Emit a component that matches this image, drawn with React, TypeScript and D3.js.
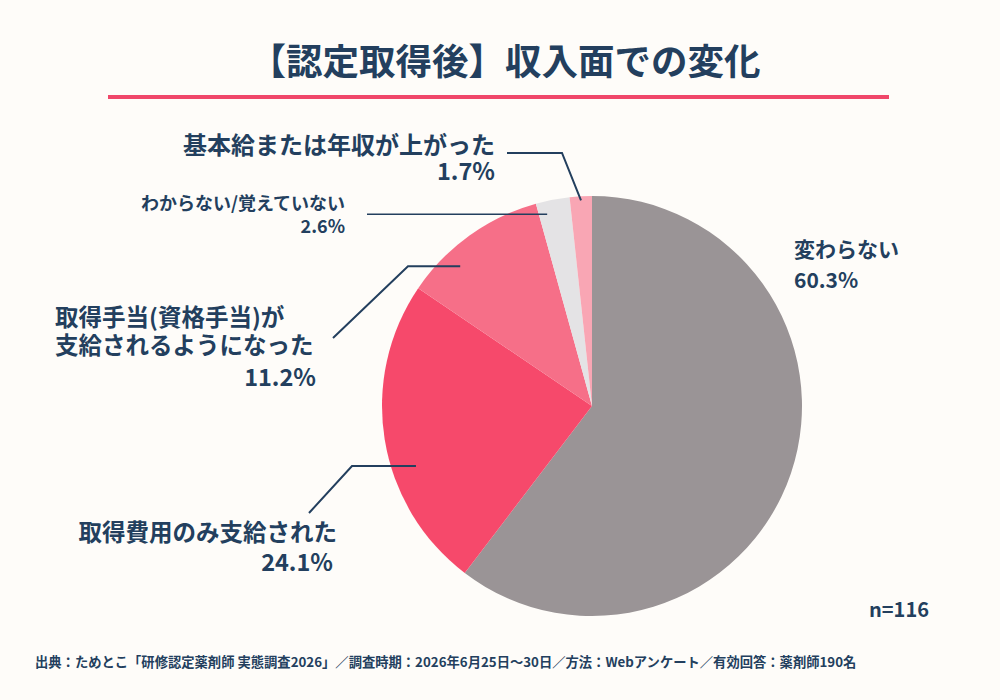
import {useMemo} from 'react'
import * as d3 from 'd3'

const WIDTH = 1000
const HEIGHT = 700
const CENTER = {x: 592, y: 406}
const RADIUS = 210

const INK = '#233f5e'
const ACCENT = '#f0476a'
const FONT = '"Noto Sans CJK JP", "Noto Sans", sans-serif'

// data, clockwise from 12 o'clock
const categories = [
  '変わらない',
  '取得費用のみ支給された',
  '取得手当(資格手当)が支給されるようになった',
  'わからない/覚えていない',
  '基本給または年収が上がった',
]
const shares = [60.3, 24.1, 11.2, 2.6, 1.7]
const sliceColors = ['#9a9496', '#f6496b', '#f66f88', '#e4e3e5', '#f9a6b4']

const TITLE = '【認定取得後】収入面での変化'
const SAMPLE = 'n=116'
const SOURCE =
  '出典：ためとこ「研修認定薬剤師 実態調査2026」／調査時期：2026年6月25日～30日／方法：Webアンケート／有効回答：薬剤師190名'

// label layout: text lines, where the leader line meets the slice
type LabelLayout = {
  lines: {text: string; x: number; y: number; anchor: 'start' | 'end'; size: number}[]
  t?: number // position within slice (0..1) for leader end
  r?: number
  via?: [number, number][] // extra leader points after the anchor (NaN y = anchor y)
  stroke?: number
}

const layouts: LabelLayout[] = [
  {
    lines: [
      {text: '変わらない', x: 794, y: 257, anchor: 'start', size: 21},
      {text: '60.3%', x: 794, y: 288, anchor: 'start', size: 21},
    ],
  },
  {
    lines: [
      {text: '取得費用のみ支給された', x: 337, y: 541, anchor: 'end', size: 23.5},
      {text: '24.1%', x: 333, y: 571, anchor: 'end', size: 23.5},
    ],
    t: 0.39,
    r: 186,
    via: [
      [352, NaN],
      [309, 513],
    ],
  },
  {
    lines: [
      {text: '取得手当(資格手当)が', x: 55, y: 326, anchor: 'start', size: 23.5},
      {text: '支給されるようになった', x: 55, y: 354, anchor: 'start', size: 23.5},
      {text: '11.2%', x: 316, y: 386, anchor: 'end', size: 23.5},
    ],
    t: 0.31,
    r: 192,
    via: [
      [408, NaN],
      [333, 338],
    ],
  },
  {
    lines: [
      {text: 'わからない/覚えていない', x: 345, y: 210, anchor: 'end', size: 18},
      {text: '2.6%', x: 345, y: 233, anchor: 'end', size: 18},
    ],
    t: 0.25,
    r: 197,
    via: [[367, NaN]],
    stroke: 1.5,
  },
  {
    lines: [
      {text: '基本給または年収が上がった', x: 495, y: 154, anchor: 'end', size: 24},
      {text: '1.7%', x: 495, y: 180, anchor: 'end', size: 23.5},
    ],
    t: 0.5,
    r: 206,
    via: [
      [562, 153],
      [507, 153],
    ],
  },
]

export default function App() {
  const arcs = useMemo(() => {
    return d3
      .pie<number>()
      .sort(null)
      .value(d => d)(shares)
  }, [])

  const arcGen = d3.arc<d3.PieArcDatum<number>>().innerRadius(0).outerRadius(RADIUS)

  const slices = arcs.map((a, i) => (
    <path key={categories[i]} d={arcGen(a) ?? ''} fill={sliceColors[i]} />
  ))

  const leaders = arcs.map((a, i) => {
    const lay = layouts[i]
    if (lay.t === undefined || !lay.via) return null
    const ang = a.startAngle + (a.endAngle - a.startAngle) * lay.t
    const r = lay.r ?? RADIUS * 0.9
    const start: [number, number] = [Math.sin(ang) * r, -Math.cos(ang) * r]
    const pts: [number, number][] = [start]
    lay.via.forEach(([vx, vy]) => {
      pts.push([vx - CENTER.x, Number.isNaN(vy) ? start[1] : vy - CENTER.y])
    })
    return (
      <path
        key={categories[i]}
        d={d3.line()(pts) ?? ''}
        fill="none"
        stroke={INK}
        strokeWidth={lay.stroke ?? 2}
      />
    )
  })

  const labels = layouts.map((lay, i) => (
    <g key={categories[i]}>
      {lay.lines.map((l, j) => (
        <text
          key={j}
          x={l.x}
          y={l.y}
          textAnchor={l.anchor}
          fontSize={l.size}
          fontWeight={700}
          fill={INK}>
          {l.text}
        </text>
      ))}
    </g>
  ))

  return (
    <div style={{position: 'absolute', left: 0, top: 0}}>
      <svg width={WIDTH} height={HEIGHT} fontFamily={FONT} style={{display: 'block'}}>
        <rect width={WIDTH} height={HEIGHT} fill="#fefcf9" />
        <text x={505} y={75} textAnchor="middle" fontSize={36.5} fontWeight={700} fill={INK}>
          {TITLE}
        </text>
        <line x1={108} x2={889} y1={97} y2={97} stroke={ACCENT} strokeWidth={4} />
        <g transform={`translate(${[CENTER.x, CENTER.y].join(',')})`}>
          {slices}
          {leaders}
        </g>
        {labels}
        <text x={929} y={617} textAnchor="end" fontSize={20} fontWeight={700} fill={INK}>
          {SAMPLE}
        </text>
        <text x={35} y={667} fontSize={13.3} fontWeight={700} fill={INK}>
          {SOURCE}
        </text>
      </svg>
    </div>
  )
}
